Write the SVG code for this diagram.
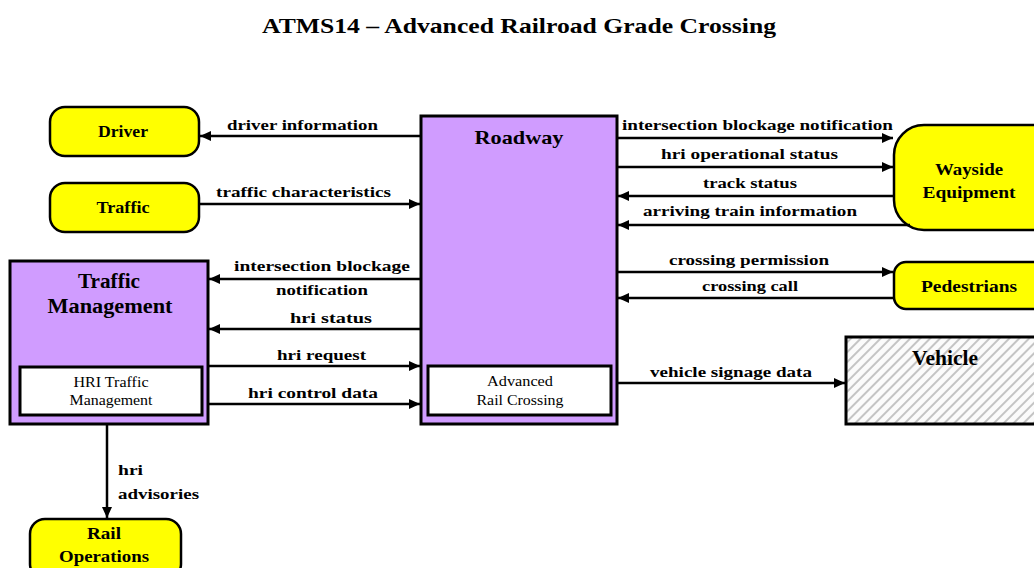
<svg xmlns="http://www.w3.org/2000/svg" width="1034" height="568" viewBox="0 0 1034 568">
<style>
.ext{fill:#ffff00;stroke:#000;stroke-width:2.5}
.sub{fill:#d09cff;stroke:#000;stroke-width:3}
.inner{fill:#fff;stroke:#000;stroke-width:3}
.lbl{font-family:"Liberation Serif","Times New Roman",serif;font-weight:bold;font-size:15px;fill:#000}
.nm{font-family:"Liberation Serif","Times New Roman",serif;font-weight:bold;font-size:16px;fill:#000;text-anchor:middle}
.big{font-family:"Liberation Serif","Times New Roman",serif;font-weight:bold;font-size:20px;fill:#000;text-anchor:middle}
.small{font-family:"Liberation Serif","Times New Roman",serif;font-size:14px;fill:#000;text-anchor:middle}
.flow{stroke:#000;stroke-width:2.5;fill:none;marker-end:url(#ah)}
</style>
<defs>
<marker id="ah" markerUnits="userSpaceOnUse" markerWidth="11" markerHeight="10" refX="11" refY="5" orient="auto">
<path d="M0,0 L11,5 L0,10 z" fill="#000"/>
</marker>
<pattern id="hatch" patternUnits="userSpaceOnUse" width="7" height="7" patternTransform="rotate(45)">
<rect width="7" height="7" fill="#fbfbfb"/>
<line x1="1" y1="0" x2="1" y2="7" stroke="#c4c4c4" stroke-width="2"/>
</pattern>
</defs>
<rect width="1034" height="568" fill="#fff"/>
<text x="262" y="33" textLength="514" lengthAdjust="spacingAndGlyphs" style="font-family:'Liberation Serif','Times New Roman',serif;font-weight:bold;font-size:22px">ATMS14 – Advanced Railroad Grade Crossing</text>

<g id="driver">
<rect class="ext" x="50" y="107" width="149" height="49" rx="15"/>
<text class="nm" x="123" y="137" textLength="50" lengthAdjust="spacingAndGlyphs">Driver</text>
</g>
<g id="traffic">
<rect class="ext" x="50" y="183" width="149" height="49" rx="15"/>
<text class="nm" x="123" y="213" textLength="53" lengthAdjust="spacingAndGlyphs">Traffic</text>
</g>
<g id="roadway">
<rect class="sub" x="421" y="116" width="196" height="308"/>
<text class="big" x="519" y="144" style="font-size:19px" textLength="89" lengthAdjust="spacingAndGlyphs">Roadway</text>
<rect class="inner" x="428" y="366" width="183" height="49"/>
<text class="small" x="520" y="386" textLength="66" lengthAdjust="spacingAndGlyphs">Advanced</text>
<text class="small" x="520" y="405" textLength="87" lengthAdjust="spacingAndGlyphs">Rail Crossing</text>
</g>
<g id="traffic-management">
<rect class="sub" x="10" y="261" width="198" height="163"/>
<text class="big" x="109" y="288" textLength="62" lengthAdjust="spacingAndGlyphs">Traffic</text>
<text class="big" x="110" y="313" textLength="125" lengthAdjust="spacingAndGlyphs">Management</text>
<rect class="inner" x="20" y="367" width="182" height="48"/>
<text class="small" x="111" y="387" textLength="75" lengthAdjust="spacingAndGlyphs">HRI Traffic</text>
<text class="small" x="111" y="405" textLength="83" lengthAdjust="spacingAndGlyphs">Management</text>
</g>
<g id="wayside">
<rect class="ext" x="894" y="125" width="170" height="105" rx="30"/>
<text class="nm" x="969" y="175" textLength="68" lengthAdjust="spacingAndGlyphs">Wayside</text>
<text class="nm" x="969" y="198" textLength="93" lengthAdjust="spacingAndGlyphs">Equipment</text>
</g>
<g id="pedestrians">
<rect class="ext" x="894" y="262" width="170" height="47" rx="12"/>
<text class="nm" x="969" y="292" textLength="96" lengthAdjust="spacingAndGlyphs">Pedestrians</text>
</g>
<g id="vehicle">
<rect x="846" y="337" width="200" height="87" fill="url(#hatch)" stroke="#000" stroke-width="3"/>
<text class="big" x="945" y="365" textLength="66" lengthAdjust="spacingAndGlyphs">Vehicle</text>
</g>
<g id="rail-operations">
<rect class="ext" x="30" y="519" width="151" height="60" rx="15"/>
<text class="nm" x="104" y="539" textLength="34" lengthAdjust="spacingAndGlyphs">Rail</text>
<text class="nm" x="104" y="562" textLength="90" lengthAdjust="spacingAndGlyphs">Operations</text>
</g>

<g id="connectors">
<line class="flow" x1="421" y1="136" x2="200" y2="136"/>
<line class="flow" x1="199" y1="204" x2="420" y2="204"/>
<line class="flow" x1="617" y1="138" x2="893" y2="138"/>
<line class="flow" x1="617" y1="167" x2="893" y2="167"/>
<line class="flow" x1="894" y1="196" x2="618" y2="196"/>
<line class="flow" x1="910" y1="225" x2="618" y2="225"/>
<line class="flow" x1="617" y1="272" x2="893" y2="272"/>
<line class="flow" x1="894" y1="298" x2="618" y2="298"/>
<line class="flow" x1="617" y1="383" x2="845" y2="383"/>
<line class="flow" x1="421" y1="279" x2="209" y2="279"/>
<line class="flow" x1="421" y1="329" x2="209" y2="329"/>
<line class="flow" x1="208" y1="366" x2="420" y2="366"/>
<line class="flow" x1="208" y1="404" x2="420" y2="404"/>
<line class="flow" x1="107" y1="424" x2="107" y2="518"/>
</g>
<g id="labels">
<text class="lbl" x="227" y="130" textLength="151" lengthAdjust="spacingAndGlyphs">driver information</text>
<text class="lbl" x="216" y="197" textLength="175" lengthAdjust="spacingAndGlyphs">traffic characteristics</text>
<text class="lbl" x="622" y="130" textLength="271" lengthAdjust="spacingAndGlyphs">intersection blockage notification</text>
<text class="lbl" x="661" y="159" textLength="177" lengthAdjust="spacingAndGlyphs">hri operational status</text>
<text class="lbl" x="703" y="188" textLength="94" lengthAdjust="spacingAndGlyphs">track status</text>
<text class="lbl" x="643" y="216" textLength="214" lengthAdjust="spacingAndGlyphs">arriving train information</text>
<text class="lbl" x="669" y="265" textLength="160" lengthAdjust="spacingAndGlyphs">crossing permission</text>
<text class="lbl" x="702" y="291" textLength="96" lengthAdjust="spacingAndGlyphs">crossing call</text>
<text class="lbl" x="650" y="377" textLength="162" lengthAdjust="spacingAndGlyphs">vehicle signage data</text>
<text class="lbl" x="234" y="271" textLength="176" lengthAdjust="spacingAndGlyphs">intersection blockage</text>
<text class="lbl" x="276" y="295" textLength="92" lengthAdjust="spacingAndGlyphs">notification</text>
<text class="lbl" x="290" y="323" textLength="82" lengthAdjust="spacingAndGlyphs">hri status</text>
<text class="lbl" x="277" y="360" textLength="89" lengthAdjust="spacingAndGlyphs">hri request</text>
<text class="lbl" x="248" y="398" textLength="130" lengthAdjust="spacingAndGlyphs">hri control data</text>
<text class="lbl" x="118" y="475" textLength="25" lengthAdjust="spacingAndGlyphs">hri</text>
<text class="lbl" x="118" y="499" textLength="81" lengthAdjust="spacingAndGlyphs">advisories</text>
</g>
</svg>
